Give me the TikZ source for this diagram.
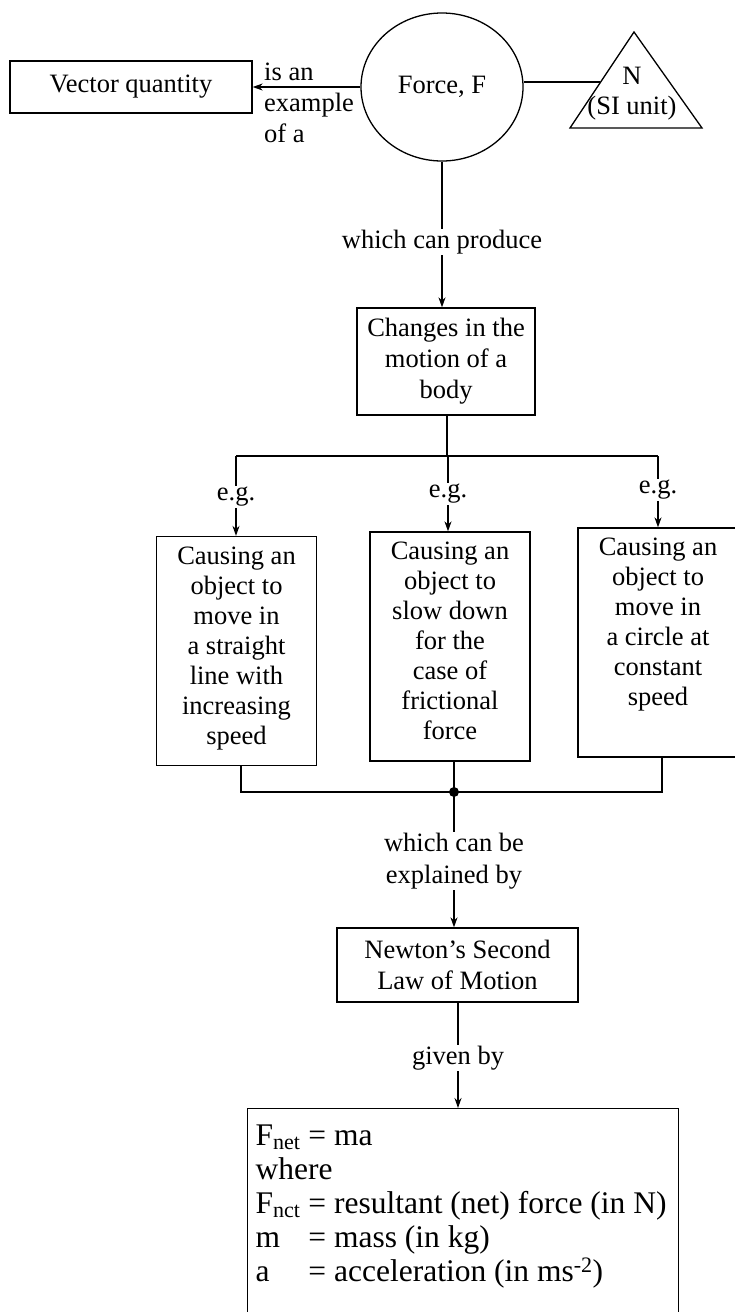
\documentclass[tikz,border=0pt]{standalone}
\usepackage{fontspec}
\setmainfont{Liberation Serif}
\usetikzlibrary{arrows.meta, positioning, shapes.geometric, calc}
\newcommand{\mainsize}{\fontsize{26.5}{31}\selectfont}
\newcommand{\casetext}[1]{\parbox[c][209pt][t]{156pt}{\centering #1}}
\tikzset{
  >={Stealth[length=10pt,width=7pt]},
  box/.style={draw, line width=1.3pt, align=center, inner sep=2pt, font=\mainsize},
  case/.style={box, inner xsep=2pt, inner ysep=10pt, font=\fontsize{26.5}{30}\selectfont},
  tag/.style={align=center, inner sep=1pt, font=\mainsize},
  link/.style={line width=1.3pt},
  flow/.style={link, ->},
}

\begin{document}
\begin{tikzpicture}[x=1pt, y=-1pt]
  \useasboundingbox (0,0) rectangle (734,1312);

  % top row: quantity, force and its unit
  \node[box, minimum width=242pt, minimum height=52pt] (vector) at (131,87) {Vector quantity};
  \node[draw, line width=1.3pt, ellipse, minimum width=162pt, minimum height=148pt,
        font=\mainsize] (force) at (442,87) {Force, F};
  \node[tag, anchor=west, align=left] (example) at (263,103) {is an\\example\\of a};
  \draw[flow] (force.west) -- (force.west -| vector.east);

  \coordinate (apex) at (634,32);
  \coordinate (baseR) at (702,128);
  \coordinate (baseL) at (570,128);
  \coordinate (unitL) at (600,82);
  \draw[link, line join=miter] (apex) -- (baseR) -- (baseL) -- cycle;
  \node[tag, font=\fontsize{26.5}{30}\selectfont] (unit) at (632,94) {N\\(SI unit)};
  \draw[link] (force.east |- unitL) -- (unitL);

  % what a force does
  \node[tag] (produce) at (442,242) {which can produce};
  \node[box, minimum width=178pt, minimum height=107pt] (changes) at (446,361.5)
    {Changes in the\\motion of a\\body};
  \draw[link] (force) -- (produce);
  \draw[flow] (produce) -- (produce |- changes.north);

  % three examples
  \coordinate (fork) at (447,456);
  \coordinate (forkL) at (236,456);
  \coordinate (forkR) at (658,456);
  \draw[link] (changes.south -| fork) -- (fork);
  \draw[link] (forkL) -- (forkR);

  \node[tag] (egL) at (236,497) {e.g.};
  \node[tag] (egM) at (448,494) {e.g.};
  \node[tag] (egR) at (658,490) {e.g.};

  \node[case] (caseL) at (236.5,651) {\casetext{Causing an\\object to\\move in\\a straight\\line with\\increasing\\speed}};
  \node[case] (caseM) at (450,646.5) {\casetext{Causing an\\object to\\slow down\\for the\\case of\\frictional\\force}};
  \node[case] (caseR) at (658,642.5) {\casetext{Causing an\\object to\\move in\\a circle at\\constant\\speed}};

  \foreach \n/\c in {egL/caseL, egM/caseM, egR/caseR} {
    \draw[link] (\n |- forkL) -- (\n);
    \draw[flow] (\n) -- (\n |- \c.north);
  }

  % joining back
  \coordinate (joinL) at (241,792);
  \coordinate (joinR) at (662,792);
  \coordinate (join) at (454,792);
  \draw[link] (caseL.south -| joinL) -- (joinL) -- (joinR) -- (caseR.south -| joinR);
  \draw[link] (caseM.south -| join) -- (join);
  \fill (join) circle (5pt);

  \node[tag, font=\fontsize{26.5}{32}\selectfont] (explain) at (454,861) {which can be\\explained by};
  \node[box, minimum width=241pt, minimum height=74pt] (newton) at (457.5,965)
    {Newton’s Second\\Law of Motion};
  \draw[link] (join) -- (join |- explain.north);
  \draw[flow] (explain) -- (explain |- newton.north);

  \node[tag] (given) at (458,1058) {given by};
  \node[box, anchor=north west, inner xsep=8pt, inner ysep=13pt, align=left,
        font=\fontsize{31.5}{34}\selectfont] (law) at (247,1108)
    {\parbox[c][200pt][t]{415pt}{%
      \begin{tabular}{@{}l@{\ }l@{}}
        F\textsubscript{net} & = ma\\
        \multicolumn{2}{@{}l@{}}{where}\\
        F\textsubscript{nct} & = resultant (net) force (in N)\\
        m & = mass (in kg)\\
        a & = acceleration (in ms\textsuperscript{-2})
      \end{tabular}}};
  \draw[link] (newton.south -| given) -- (given);
  \draw[flow] (given) -- (given |- law.north);
\end{tikzpicture}
\end{document}
